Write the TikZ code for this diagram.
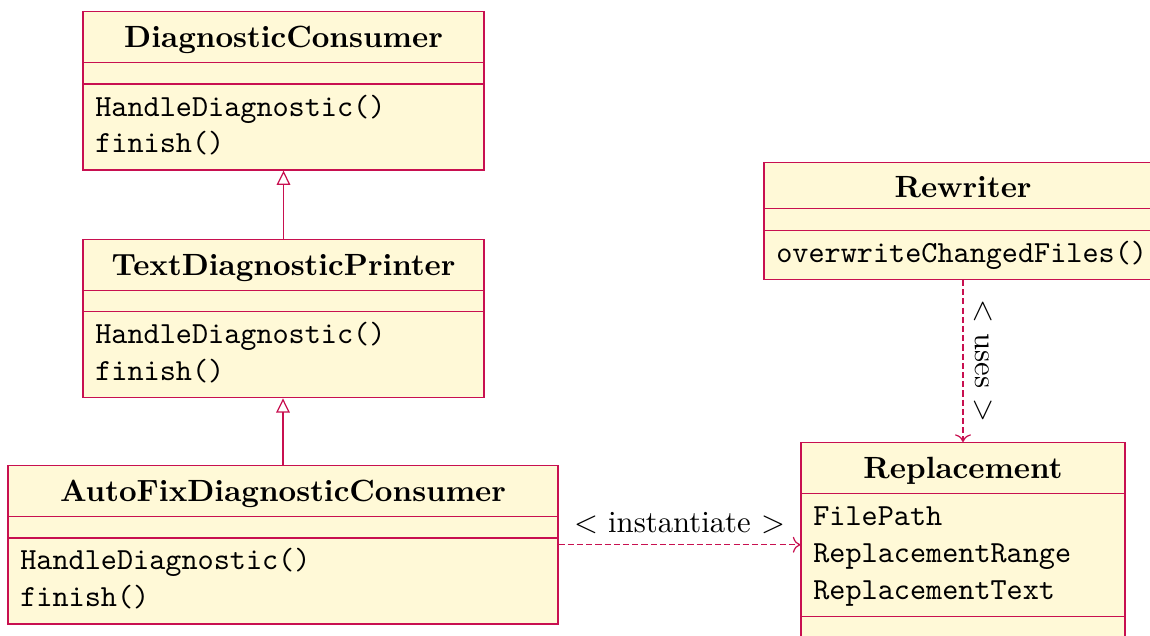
\documentclass[tikz,border=0pt]{standalone}
\usetikzlibrary{positioning,shapes.multipart,arrows.meta}
\definecolor{umlline}{RGB}{200,16,80}
\definecolor{umlfill}{RGB}{255,249,215}

\begin{document}
\begin{tikzpicture}[
    umlclass/.style={draw=umlline,fill=umlfill,rectangle split,rectangle split parts=3,
    inner xsep=4pt,inner ysep=1.8pt,align=left,font=\ttfamily},
    inherit/.style={draw=umlline,-{Triangle[open,length=4.6pt,width=4.4pt]}},
    depend/.style={draw=umlline,dash pattern=on 2pt off 1pt,->},
    stereo/.style={text=black,font=\rmfamily},
   ]
   \useasboundingbox (0,0) rectangle (13.166,-7.270);
   \node[umlclass,anchor=north,text width=122.6pt] (dc) at (3.246,-0.126)
     {\hfill\rmfamily\bfseries\rule[-3pt]{0pt}{12.6pt}DiagnosticConsumer\hfill\null
      \nodepart{two}\rule{0pt}{3pt}
      \nodepart{three}\strut HandleDiagnostic()\\\strut finish()};
   \node[umlclass,below=0.78cm of dc,text width=122.6pt] (tdp)
     {\hfill\rmfamily\bfseries\rule[-3pt]{0pt}{12.6pt}TextDiagnosticPrinter\hfill\null
      \nodepart{two}\rule{0pt}{3pt}
      \nodepart{three}\strut HandleDiagnostic()\\\strut finish()};
   \node[umlclass,anchor=north,text width=171.1pt] (afdc) at (3.240,-5.323)
     {\hfill\rmfamily\bfseries\rule[-3pt]{0pt}{12.6pt}AutoFixDiagnosticConsumer\hfill\null
      \nodepart{two}\rule{0pt}{3pt}
      \nodepart{three}\strut HandleDiagnostic()\\\strut finish()};
   \node[umlclass,anchor=north,text width=121.6pt] (rw) at (11.025,-1.855)
     {\hfill\rmfamily\bfseries\rule[-1.5pt]{0pt}{11pt}Rewriter\hfill\null
      \nodepart{two}\rule{0pt}{3pt}
      \nodepart{three}\strut overwriteChangedFiles()};
   \node[umlclass,anchor=north,text width=97.5pt] (repl) at (11.025,-5.060)
     {\hfill\rmfamily\bfseries\rule[-3pt]{0pt}{12.6pt}Replacement\hfill\null
      \nodepart{two}\strut FilePath\\\strut ReplacementRange\\\strut ReplacementText
      \nodepart{three}\rule{0pt}{3pt}};
   \draw[inherit] (tdp) -- (dc);
   \draw[inherit] (afdc.north) -- (afdc.north |- tdp.south);
   \draw[depend] (rw) -- node[above,sloped,stereo] {$<$ uses $>$} (repl);
   \draw[depend] (afdc.east) -- node[above,stereo] {$<$ instantiate $>$} (afdc.east -| repl.west);
\end{tikzpicture}
\end{document}
